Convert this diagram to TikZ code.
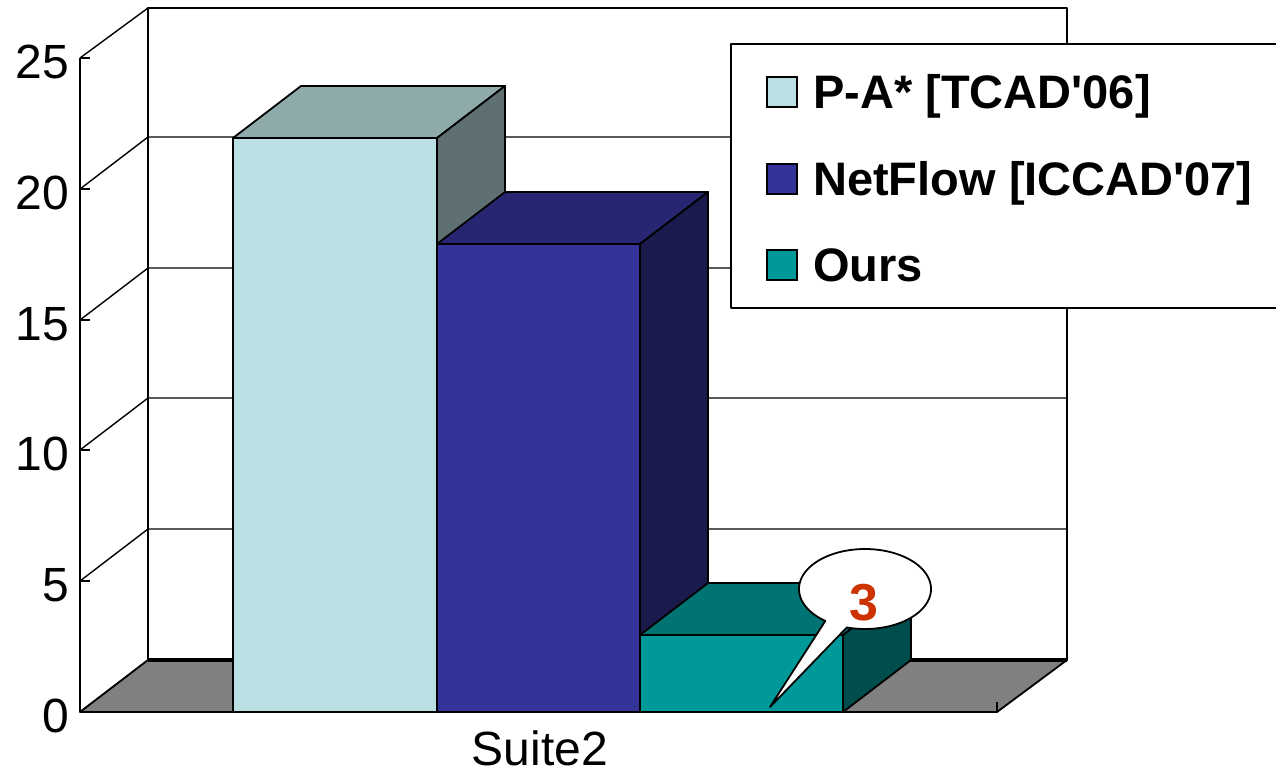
\documentclass[tikz,border=0pt]{standalone}
\usepackage{fontspec}
\setmainfont{Liberation Sans}
\definecolor{paFront}{HTML}{BAE0E3}
\definecolor{paTop}{HTML}{8FAAAB}
\definecolor{paSide}{HTML}{5E7071}
\definecolor{nfFront}{HTML}{333399}
\definecolor{nfTop}{HTML}{262673}
\definecolor{nfSide}{HTML}{1A1A4D}
\definecolor{ourFront}{HTML}{009999}
\definecolor{ourTop}{HTML}{007373}
\definecolor{ourSide}{HTML}{004D4D}
\definecolor{floorgray}{HTML}{808080}
\definecolor{callred}{HTML}{CC3300}
% one 3-D column: left x, right x, top y, front / top / side colours
\newcommand\drawcolumn[6]{%
  \filldraw[face, fill=#4] (#1,712) rectangle (#2,#3);
  \filldraw[face, fill=#5] (#1,#3) -- ({#1+68},{#3-52}) -- ({#2+68},{#3-52}) -- (#2,#3) -- cycle;
  \filldraw[face, fill=#6] (#2,#3) -- ({#2+68},{#3-52}) -- ({#2+68},660) -- (#2,712) -- cycle;
}
\begin{document}
\begin{tikzpicture}[x=1pt,y=-1pt,
  edge/.style={line width=1.8pt, line join=round},
  grid/.style={line width=1.4pt},
  face/.style={draw=black, line width=1.8pt, line join=round},
  ticklab/.style={anchor=east, inner sep=0pt, font=\fontsize{48}{48}\selectfont},
  legtext/.style={anchor=base west, inner sep=0pt, font=\fontsize{47}{47}\selectfont\bfseries},
  swatch/.style={draw=black, line width=1.5pt}]
\useasboundingbox (0,0) rectangle (1276,774);
\begin{scope}
\clip (0,0) rectangle (1276,774);
% back wall
\draw[edge] (148,8) rectangle (1067,660);
% grid lines on side and back walls, ticks and value labels
\foreach \yf/\yb/\lab in {58/8/25, 189/137/20, 320/268/15, 450/398/10, 581/529/5, 712/660/0} {
  \draw[grid] (80,\yf) -- (148,\yb) -- (1067,\yb);
  \draw[grid] (80,\yf) -- (90,\yf);
  \node[ticklab] (lab\lab) at (69,{\yf+4}) {\lab};
}
% value axis
\draw[edge] (80,58) -- (80,712);
% floor
\filldraw[edge, fill=floorgray] (80,712) -- (997,712) -- (1067,660) -- (148,660) -- cycle;
\draw[line width=3.5pt] (148,660) -- (1067,660);
\draw[edge] (997,712) -- (997,702);
% columns
\drawcolumn{233}{437}{138}{paFront}{paTop}{paSide}
\drawcolumn{437}{640}{244}{nfFront}{nfTop}{nfSide}
\drawcolumn{640}{843}{635}{ourFront}{ourTop}{ourSide}
% category label
\node[font=\fontsize{48}{48}\selectfont, anchor=base, inner sep=0pt] (cat) at (540,765) {Suite2};
% legend
\filldraw[edge, fill=white] (731,44) rectangle (1300,308);
\filldraw[swatch, fill=paFront] (767,77) rectangle (797,107);
\filldraw[swatch, fill=nfFront] (767,164) rectangle (797,194);
\filldraw[swatch, fill=ourFront] (767,250) rectangle (797,280);
\node[legtext] (leg1) at (813,108) {P-A* [TCAD\textquotesingle06]};
\node[legtext] (leg2) at (813,195) {NetFlow [ICCAD\textquotesingle07]};
\node[legtext] (leg3) at (813,281) {Ours};
% callout with the value of the last column
\filldraw[edge, fill=white] (770,707) -- plot[domain=127:466, samples=140] ({865+66*cos(\x)},{589+40*sin(\x)}) -- cycle;
\node[font=\fontsize{52}{52}\selectfont\bfseries, text=callred, inner sep=0pt] (val) at (864,603) {3};
\end{scope}
\end{tikzpicture}
\end{document}
